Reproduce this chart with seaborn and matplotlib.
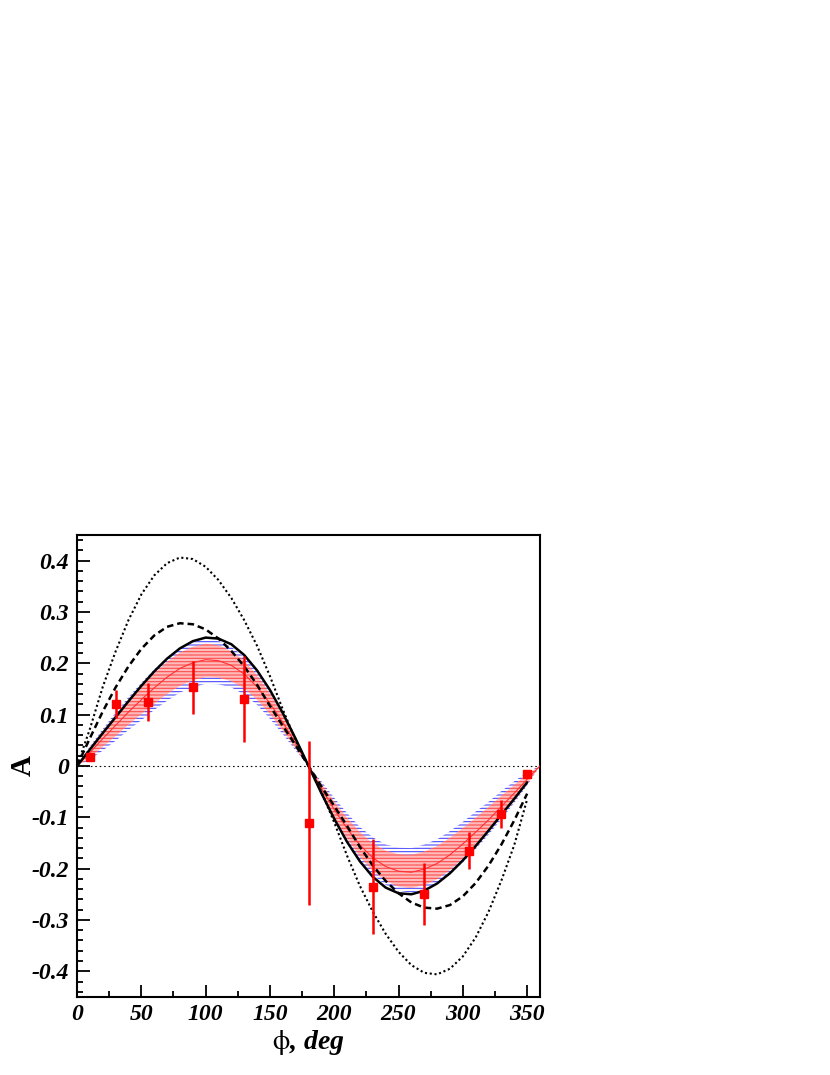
import matplotlib
matplotlib.use("Agg")
import matplotlib.pyplot as plt
import seaborn as sns
from matplotlib.ticker import MultipleLocator

sns.set_style("white")
plt.rcParams['font.family'] = ['Liberation Serif', 'DejaVu Serif']
plt.rcParams['mathtext.fontset'] = 'stix'
plt.rcParams['axes.unicode_minus'] = False
plt.rcParams['hatch.linewidth'] = 0.8
plt.rcParams['text.color'] = 'black'
plt.rcParams['axes.labelcolor'] = 'black'

# phi grid (deg) for bands / thin fit line, and for the black model curves
phi = [0, 10, 20, 30, 40, 50, 60, 70, 80, 90, 100, 110, 120, 130, 140, 150, 160, 170, 180,
       190, 200, 210, 220, 230, 240, 250, 260, 270, 280, 290, 300, 310, 320, 330, 340, 350, 360]
phi_curve = [0, 10, 20, 30, 40, 50, 60, 70, 80, 90, 100, 110, 120, 130, 140, 150, 160, 170, 180,
             190, 200, 210, 220, 230, 240, 250, 260, 270, 280, 290, 300, 310, 320, 330, 340, 350]

# thin red fit line
fit_line = [0, .026, .053, .079, .105, .129, .152, .173, .190, .201, .207, .205, .196, .179, .154, .122, .085, .044, 0,
            -.044, -.085, -.122, -.154, -.179, -.196, -.205, -.207, -.201, -.190, -.173, -.152, -.129, -.105, -.079, -.053, -.026, 0]

# pink band
pink_lo = [0, .016, .037, .058, .080, .101, .121, .140, .156, .167, .173, .172, .165, .151, .129, .101, .069, .034, 0,
           -.053, -.100, -.141, -.177, -.205, -.224, -.235, -.238, -.232, -.221, -.203, -.180, -.155, -.128, -.098, -.068, -.035, 0]
pink_hi = [0, .035, .068, .098, .128, .155, .180, .203, .221, .232, .238, .235, .224, .205, .177, .141, .100, .053, 0,
           -.034, -.069, -.101, -.129, -.151, -.165, -.172, -.173, -.167, -.156, -.140, -.121, -.101, -.080, -.058, -.037, -.016, 0]

# blue band
blue_lo = [0, .012, .030, .049, .070, .089, .109, .127, .143, .153, .160, .159, .153, .139, .119, .092, .062, .030, 0,
           -.056, -.104, -.147, -.183, -.212, -.232, -.243, -.247, -.241, -.230, -.211, -.188, -.162, -.134, -.104, -.072, -.038, 0]
blue_hi = [0, .038, .072, .104, .134, .162, .188, .211, .230, .241, .247, .243, .232, .212, .183, .147, .104, .056, 0,
           -.030, -.062, -.092, -.119, -.139, -.153, -.159, -.160, -.153, -.143, -.127, -.109, -.089, -.070, -.049, -.030, -.012, 0]

# black curves
solid = [0, .032, .064, .095, .126, .156, .184, .209, .229, .243, .250, .248, .237, .216, .186, .148, .103, .053, 0,
         -.053, -.103, -.148, -.186, -.216, -.237, -.248, -.250, -.243, -.229, -.209, -.184, -.156, -.126, -.095, -.064, -.032]
dashed = [0, .054, .106, .153, .194, .228, .254, .271, .278, .276, .266, .248, .224, .194, .158, .117, .078, .040, 0,
          -.040, -.078, -.117, -.158, -.194, -.224, -.248, -.266, -.276, -.278, -.271, -.254, -.228, -.194, -.153, -.106, -.054]
dotted = [0, .072, .154, .223, .284, .334, .371, .395, .406, .403, .388, .362, .327, .284, .234, .175, .110, .050, 0,
          -.050, -.110, -.175, -.234, -.284, -.327, -.362, -.388, -.403, -.406, -.395, -.371, -.334, -.284, -.223, -.154, -.065]

# data points
data_phi = [10, 30, 55, 90, 130, 180, 230, 270, 305, 330, 350]
data_A = [0.018, 0.120, 0.125, 0.153, 0.130, -0.111, -0.235, -0.250, -0.165, -0.094, -0.016]
data_err = [0.008, 0.027, 0.037, 0.051, 0.084, 0.160, 0.093, 0.060, 0.036, 0.027, 0.006]

xticks = [0, 50, 100, 150, 200, 250, 300, 350]
xtick_labels = ['0', '50', '100', '150', '200', '250', '300', '350']
yticks = [-0.4, -0.3, -0.2, -0.1, 0, 0.1, 0.2, 0.3, 0.4]
ytick_labels = ['-0.4', '-0.3', '-0.2', '-0.1', '0', '0.1', '0.2', '0.3', '0.4']

fig = plt.figure(figsize=(8.3, 10.75), dpi=100)
ax = fig.add_axes([0.0928, 0.0726, 0.5578, 0.4298])

# bands
ax.fill_between(phi, blue_lo, blue_hi, facecolor='none', edgecolor='#4a4aff',
                hatch='-----', linewidth=0, zorder=1)
ax.fill_between(phi, pink_lo, pink_hi, facecolor='#ffbcbc', edgecolor='#ff4c4c',
                hatch='-----', linewidth=0, zorder=2)
sns.lineplot(x=phi, y=fit_line, ax=ax, color='#ff3030', lw=0.8, sort=False, zorder=3)

ax.axhline(0, color='black', lw=0.8, linestyle=(0, (1.4, 2.6)), zorder=3)

# model curves
sns.lineplot(x=phi_curve, y=dotted, ax=ax, color='black', lw=1.5,
             linestyle=(0, (1, 1.3)), sort=False, zorder=4)
sns.lineplot(x=phi_curve, y=dashed, ax=ax, color='black', lw=1.8,
             linestyle=(0, (2.6, 1.6)), sort=False, zorder=4)
sns.lineplot(x=phi_curve, y=solid, ax=ax, color='black', lw=1.8, sort=False, zorder=5)

# data
ax.errorbar(data_phi, data_A, yerr=data_err, fmt='s', color='red', ms=6,
            elinewidth=1.8, capsize=0, zorder=6)

ax.set_xlim(0, 360)
ax.set_ylim(-0.45, 0.45)
ax.set_xticks(xticks)
ax.set_xticklabels(xtick_labels)
ax.set_yticks(yticks)
ax.set_yticklabels(ytick_labels)
ax.xaxis.set_minor_locator(MultipleLocator(25))
ax.yaxis.set_minor_locator(MultipleLocator(0.02))

ax.tick_params(which='both', direction='in', left=True, bottom=True, top=False, right=False,
               color='black', width=1.3, labelcolor='black')
ax.tick_params(which='major', length=9)
ax.tick_params(which='minor', length=4.5)
ax.tick_params(axis='y', pad=6)
ax.tick_params(axis='x', pad=5)
for lab in ax.get_xticklabels() + ax.get_yticklabels():
    lab.set_fontsize(17)
    lab.set_fontweight('bold')
    lab.set_fontstyle('italic')

for sp in ax.spines.values():
    sp.set_color('black')
    sp.set_linewidth(1.5)

ax.set_ylabel('A', fontsize=21, fontweight='bold', rotation=90)
ax.yaxis.set_label_coords(-0.088, 0.5)
ax.set_xlabel(r'$\mathrm{\phi}$, deg', fontsize=20, fontweight='bold', fontstyle='italic')
ax.xaxis.set_label_coords(0.5, -0.068)

fig.savefig('out.png', dpi=100)
